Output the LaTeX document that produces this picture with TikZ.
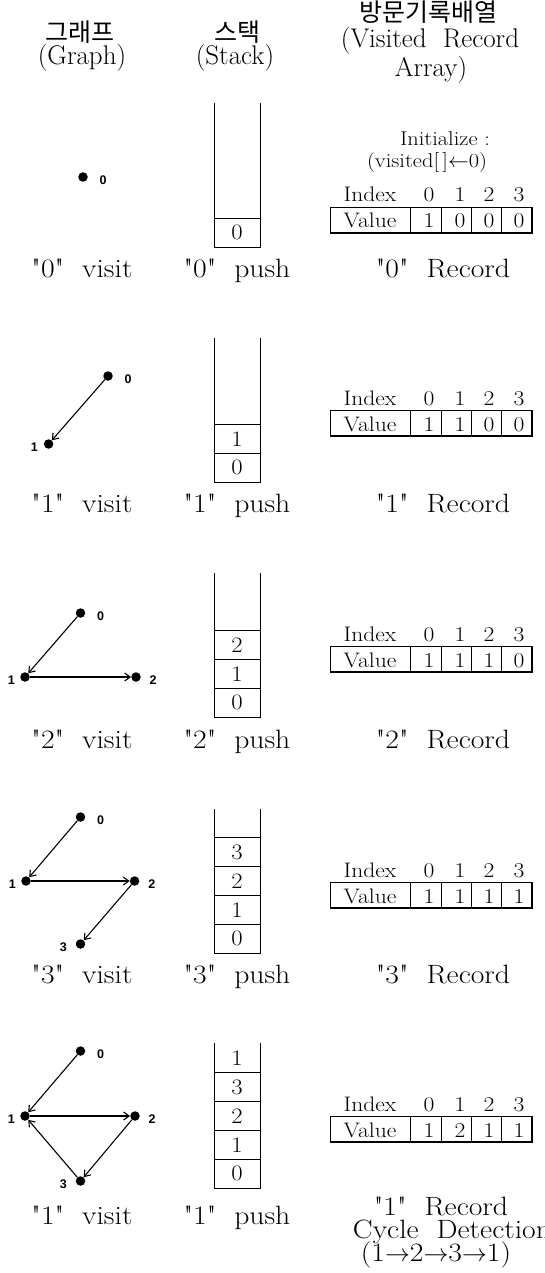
\documentclass[tikz,border=0pt]{standalone}
\usepackage{fontspec}
\newfontfamily\kofont{Noto Sans CJK KR}
\newfontfamily\numfont{Liberation Sans}
\newfontfamily\lmfont{Latin Modern Roman}[FakeStretch=1.12]
\newfontfamily\lmhead{Latin Modern Roman}
\usepackage{tikz}
\usetikzlibrary{arrows.meta,positioning}

\begin{document}
\begin{tikzpicture}[x=1pt,y=-1pt,
  vtx/.style={circle,fill=black,inner sep=0pt,minimum size=9.5pt},
  vlbl/.style={inner sep=0pt,yshift=-3pt,font=\numfont\bfseries\fontsize{12.5}{12.5}\selectfont},
  link/.style={line width=1.1pt,-{Straight Barb[length=5.5pt,width=8pt]}},
  hdr/.style={anchor=base,font=\lmhead\fontsize{27}{27}\selectfont},
  khdr/.style={anchor=base,font=\kofont\fontsize{25}{25}\selectfont},
  sublbl/.style={anchor=base,font=\lmfont\fontsize{26.5}{26.5}\selectfont},
  cell/.style={inner sep=0pt,font=\lmfont\fontsize{22}{22}\selectfont},
  tab/.style={anchor=base,inner sep=0pt,font=\lmfont\fontsize{21}{21}\selectfont},
  note/.style={anchor=base,inner sep=1pt,font=\lmfont\fontsize{20}{20}\selectfont},
  wall/.style={line width=0.8pt},
  rim/.style={line width=1.8pt}]

\useasboundingbox (0,0) rectangle (544,1273);

% column headers
\node[khdr] (hgk) at (80,42) {그래프};
\node[hdr] (hge) at (82,65) {(Graph)};
\node[khdr] (hsk) at (237,42) {스택};
\node[hdr] (hse) at (235,65) {(Stack)};
\node[khdr] (hvk) at (428,22) {방문기록배열};
\node[hdr] (hve) at (430,48) {(Visited\ \ Record};
\node[hdr] (hva) at (431,77) {Array)};

% step 1 : visit 0
\node[vtx] (a0) at (83,177) {};
\node[vlbl,right=11.5pt of a0] (la0) {0};
\draw[wall] (214,103) -- (214,247) -- (260,247) -- (260,103);
\draw[wall] (214,218.2) -- (260,218.2);
\node[cell] (sa0) at (237,232.6) {0};
\node[note] (inia) at (445,146) {Initialize\ :};
\node[note] (inib) at (427,168) {(visited[\,]$\leftarrow$0)};
\node[tab] (ia) at (370,202) {Index};
\node[tab] (ia0) at (429,202) {0};
\node[tab] (ia1) at (460,202) {1};
\node[tab] (ia2) at (489,202) {2};
\node[tab] (ia3) at (519,202) {3};
\draw[wall] (330,207) rectangle (532,233);
\draw[wall] (410,207) -- (410,233) (441,207) -- (441,233) (471,207) -- (471,233) (501,207) -- (501,233);
\draw[rim] (330,233) -- (532,233) -- (532,207);
\node[tab] (va) at (370,228) {Value};
\node[tab] (va0) at (429,228) {1};
\node[tab] (va1) at (460,228) {0};
\node[tab] (va2) at (489,228) {0};
\node[tab] (va3) at (519,228) {0};
\node[sublbl] (ca1) at (82,277) {"0"\ \ visit};
\node[sublbl] (ca2) at (237,277) {"0"\ \ push};
\node[sublbl] (ca3) at (443,277) {"0"\ \ Record};

% step 2 : visit 1
\node[vtx] (b0) at (108,376) {};
\node[vtx] (b1) at (48.6,444) {};
\node[vlbl,right=11.5pt of b0] (lb0) {0};
\node[vlbl,left=5.5pt of b1] (lb1) {1};
\draw[link] (b0) -- (b1);
\draw[wall] (214,338) -- (214,482) -- (260,482) -- (260,338);
\draw[wall] (214,453.2) -- (260,453.2) (214,424.4) -- (260,424.4);
\node[cell] (sb0) at (237,467.6) {0};
\node[cell] (sb1) at (237,438.8) {1};
\node[tab] (ib) at (370,405) {Index};
\node[tab] (ib0) at (429,405) {0};
\node[tab] (ib1) at (460,405) {1};
\node[tab] (ib2) at (489,405) {2};
\node[tab] (ib3) at (519,405) {3};
\draw[wall] (330,410) rectangle (532,436);
\draw[wall] (410,410) -- (410,436) (441,410) -- (441,436) (471,410) -- (471,436) (501,410) -- (501,436);
\draw[rim] (330,436) -- (532,436) -- (532,410);
\node[tab] (vb) at (370,431) {Value};
\node[tab] (vb0) at (429,431) {1};
\node[tab] (vb1) at (460,431) {1};
\node[tab] (vb2) at (489,431) {0};
\node[tab] (vb3) at (519,431) {0};
\node[sublbl] (cb1) at (82,512) {"1"\ \ visit};
\node[sublbl] (cb2) at (237,512) {"1"\ \ push};
\node[sublbl] (cb3) at (443,512) {"1"\ \ Record};

% step 3 : visit 2
\node[vtx] (c0) at (80.5,613) {};
\node[vtx] (c1) at (25,677) {};
\node[vtx] (c2) at (136,677) {};
\node[vlbl,right=11.5pt of c0] (lc0) {0};
\node[vlbl,left=5pt of c1] (lc1) {1};
\node[vlbl,right=8.5pt of c2] (lc2) {2};
\draw[link] (c0) -- (c1);
\draw[link] (c1) -- (c2);
\draw[wall] (214,573) -- (214,717) -- (260,717) -- (260,573);
\draw[wall] (214,688.2) -- (260,688.2) (214,659.4) -- (260,659.4) (214,630.6) -- (260,630.6);
\node[cell] (sc0) at (237,702.6) {0};
\node[cell] (sc1) at (237,673.8) {1};
\node[cell] (sc2) at (237,645) {2};
\node[tab] (ic) at (370,641) {Index};
\node[tab] (ic0) at (429,641) {0};
\node[tab] (ic1) at (460,641) {1};
\node[tab] (ic2) at (489,641) {2};
\node[tab] (ic3) at (519,641) {3};
\draw[wall] (330,646) rectangle (532,672);
\draw[wall] (410,646) -- (410,672) (441,646) -- (441,672) (471,646) -- (471,672) (501,646) -- (501,672);
\draw[rim] (330,672) -- (532,672) -- (532,646);
\node[tab] (vc) at (370,667) {Value};
\node[tab] (vc0) at (429,667) {1};
\node[tab] (vc1) at (460,667) {1};
\node[tab] (vc2) at (489,667) {1};
\node[tab] (vc3) at (519,667) {0};
\node[sublbl] (cc1) at (82,748) {"2"\ \ visit};
\node[sublbl] (cc2) at (237,748) {"2"\ \ push};
\node[sublbl] (cc3) at (443,748) {"2"\ \ Record};

% step 4 : visit 3
\node[vtx] (d0) at (80.5,817) {};
\node[vtx] (d1) at (26,881) {};
\node[vtx] (d2) at (134.6,881) {};
\node[vtx] (d3) at (80.5,944) {};
\node[vlbl,right=11.5pt of d0] (ld0) {0};
\node[vlbl,left=5pt of d1] (ld1) {1};
\node[vlbl,right=8.5pt of d2] (ld2) {2};
\node[vlbl,left=8.5pt of d3] (ld3) {3};
\draw[link] (d0) -- (d1);
\draw[link] (d1) -- (d2);
\draw[link] (d2) -- (d3);
\draw[wall] (214,809) -- (214,953) -- (260,953) -- (260,809);
\draw[wall] (214,924.2) -- (260,924.2) (214,895.4) -- (260,895.4) (214,866.6) -- (260,866.6) (214,837.8) -- (260,837.8);
\node[cell] (sd0) at (237,938.6) {0};
\node[cell] (sd1) at (237,909.8) {1};
\node[cell] (sd2) at (237,881) {2};
\node[cell] (sd3) at (237,852.2) {3};
\node[tab] (id) at (370,877) {Index};
\node[tab] (id0) at (429,877) {0};
\node[tab] (id1) at (460,877) {1};
\node[tab] (id2) at (489,877) {2};
\node[tab] (id3) at (519,877) {3};
\draw[wall] (330,882) rectangle (532,908);
\draw[wall] (410,882) -- (410,908) (441,882) -- (441,908) (471,882) -- (471,908) (501,882) -- (501,908);
\draw[rim] (330,908) -- (532,908) -- (532,882);
\node[tab] (vd) at (370,903) {Value};
\node[tab] (vd0) at (429,903) {1};
\node[tab] (vd1) at (460,903) {1};
\node[tab] (vd2) at (489,903) {1};
\node[tab] (vd3) at (519,903) {1};
\node[sublbl] (cd1) at (82,983) {"3"\ \ visit};
\node[sublbl] (cd2) at (237,983) {"3"\ \ push};
\node[sublbl] (cd3) at (443,983) {"3"\ \ Record};

% step 5 : back to 1, cycle
\node[vtx] (e0) at (80.5,1051) {};
\node[vtx] (e1) at (25,1116) {};
\node[vtx] (e2) at (135,1116) {};
\node[vtx] (e3) at (80.5,1181) {};
\node[vlbl,right=11.5pt of e0] (le0) {0};
\node[vlbl,left=5pt of e1] (le1) {1};
\node[vlbl,right=8.5pt of e2] (le2) {2};
\node[vlbl,left=8.5pt of e3] (le3) {3};
\draw[link] (e0) -- (e1);
\draw[link] (e1) -- (e2);
\draw[link] (e2) -- (e3);
\draw[link] (e3) -- (e1);
\draw[wall] (214,1043) -- (214,1188) -- (260,1188) -- (260,1043);
\draw[wall] (214,1159.2) -- (260,1159.2) (214,1130.4) -- (260,1130.4) (214,1101.6) -- (260,1101.6) (214,1072.8) -- (260,1072.8);
\node[cell] (se0) at (237,1173.6) {0};
\node[cell] (se1) at (237,1144.8) {1};
\node[cell] (se2) at (237,1116) {2};
\node[cell] (se3) at (237,1087.2) {3};
\node[cell] (se4) at (237,1058.4) {1};
\node[tab] (ie) at (370,1111) {Index};
\node[tab] (ie0) at (429,1111) {0};
\node[tab] (ie1) at (460,1111) {1};
\node[tab] (ie2) at (489,1111) {2};
\node[tab] (ie3) at (519,1111) {3};
\draw[wall] (330,1116) rectangle (532,1142);
\draw[wall] (410,1116) -- (410,1142) (441,1116) -- (441,1142) (471,1116) -- (471,1142) (501,1116) -- (501,1142);
\draw[rim] (330,1142) -- (532,1142) -- (532,1116);
\node[tab] (ve) at (370,1137) {Value};
\node[tab] (ve0) at (429,1137) {1};
\node[tab] (ve1) at (460,1137) {2};
\node[tab] (ve2) at (489,1137) {1};
\node[tab] (ve3) at (519,1137) {1};
\node[sublbl] (ce1) at (82,1224) {"1"\ \ visit};
\node[sublbl] (ce2) at (237,1224) {"1"\ \ push};
\node[sublbl] (ce3) at (441,1215) {"1"\ \ Record};
\node[sublbl] (ce4) at (452,1238) {Cycle\ \ Detection};
\node[sublbl] (ce5) at (436,1261) {(1$\rightarrow$2$\rightarrow$3$\rightarrow$1)};
\end{tikzpicture}
\end{document}
